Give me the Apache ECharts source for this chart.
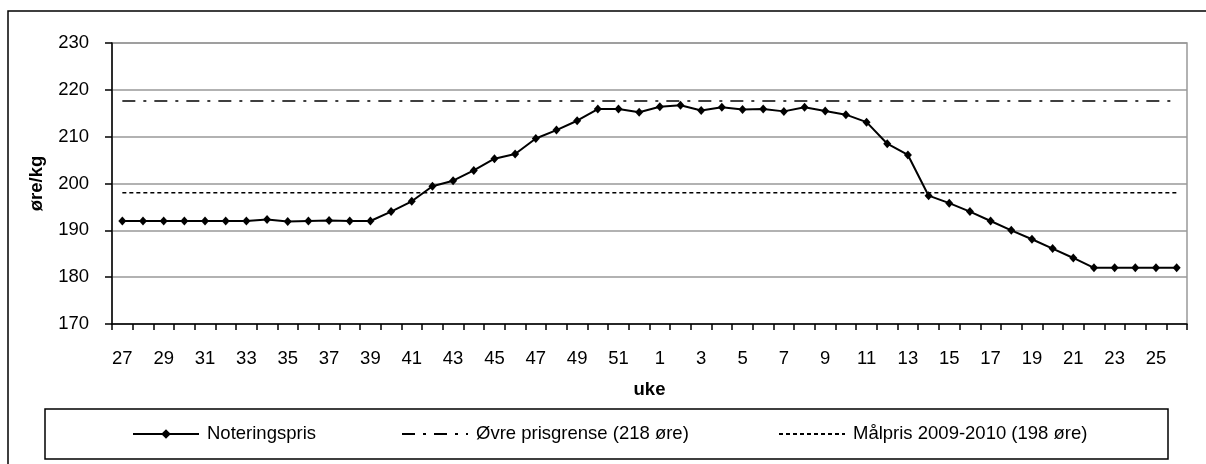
<!DOCTYPE html>
<html>
<head>
<meta charset="utf-8">
<script src="https://cdn.jsdelivr.net/npm/echarts@6/dist/echarts.min.js"></script>
<style>
html,body{margin:0;padding:0;background:#fff;}
#chart{width:1206px;height:464px;}
</style>
</head>
<body>
<div id="chart"></div>
<script>
const weeks = ['27','28','29','30','31','32','33','34','35','36','37','38','39','40','41','42','43','44','45','46','47','48','49','50','51','52',
               '1','2','3','4','5','6','7','8','9','10','11','12','13','14','15','16','17','18','19','20','21','22','23','24','25','26'];
const noteringspris = [192,192,192,192,192,192,192,192.3,191.9,192,192.1,192,192,194.0,196.2,199.4,200.6,202.8,205.3,206.3,209.6,211.4,213.4,215.9,215.9,215.2,
                       216.4,216.7,215.6,216.3,215.8,215.9,215.4,216.3,215.5,214.7,213.1,208.5,206.1,197.4,195.8,194.0,192.0,190.0,188.1,186.1,184.1,182.0,182.0,182.0,182.0,182.0];
const ovrePrisgrense = 217.6;
const malpris = 198;
const yTicks = {min:170, max:230, interval:10};
const seriesNames = ['Noteringspris','Øvre prisgrense (218 øre)','Målpris 2009-2010 (198 øre)'];

const FONT = "'Liberation Sans', Arial, sans-serif";
const chart = echarts.init(document.getElementById('chart'), null, {renderer:'canvas'});

function legendAt(name, left, hideSymbol){
  const item = {name:name};
  if (hideSymbol) item.itemStyle = {opacity:0};
  return {
    data:[item], left:left, top:424, padding:0, itemWidth:66, itemHeight:12,
    textStyle:{fontFamily:FONT, fontSize:18.5, color:'#000', lineHeight:20, padding:[0,0,0,3]},
    selectedMode:false
  };
}

chart.setOption({
  animation:false,
  backgroundColor:'#fff',
  grid:{left:112, right:19, top:43, bottom:140, show:true, borderColor:'#999', borderWidth:1.5},
  legend:[legendAt(seriesNames[0],132,false), legendAt(seriesNames[1],401,true), legendAt(seriesNames[2],778,true)],
  graphic:[
    {type:'rect', shape:{x:8, y:11, width:1300, height:600}, style:{fill:null, stroke:'#000', lineWidth:1.5}, silent:true, z:-1},
    {type:'rect', shape:{x:45, y:409, width:1123, height:50}, style:{fill:null, stroke:'#000', lineWidth:1.5}, silent:true, z:-1}
  ],
  xAxis:{
    type:'category', data:weeks, boundaryGap:true,
    name:'uke', nameLocation:'middle', nameGap:56,
    nameTextStyle:{fontFamily:FONT, fontSize:18.5, fontWeight:'bold', color:'#000'},
    axisLine:{lineStyle:{color:'#000', width:1.5}},
    axisTick:{show:true, interval:0, length:6, inside:false, lineStyle:{color:'#000', width:1.5}},
    axisLabel:{interval:1, margin:25, fontFamily:FONT, fontSize:18.5, color:'#000'},
    splitLine:{show:false}
  },
  yAxis:{
    type:'value', min:yTicks.min, max:yTicks.max, interval:yTicks.interval,
    name:'øre/kg', nameLocation:'middle', nameGap:66, nameRotate:90,
    nameTextStyle:{fontFamily:FONT, fontSize:18.5, fontWeight:'bold', color:'#000'},
    axisLine:{show:true, lineStyle:{color:'#000', width:1.5}},
    axisTick:{show:true, length:7, lineStyle:{color:'#000', width:1.5}},
    axisLabel:{margin:23, fontFamily:FONT, fontSize:18.5, color:'#000'},
    splitLine:{show:true, lineStyle:{color:'#999', width:1.5}}
  },
  series:[
    {
      name:seriesNames[0], type:'line', data:noteringspris,
      symbol:'diamond', symbolSize:[8,9], showSymbol:true,
      lineStyle:{color:'#000', width:2}, itemStyle:{color:'#000'}, z:5
    },
    {
      name:seriesNames[1], type:'line', data:weeks.map(()=>ovrePrisgrense),
      symbol:'none', lineStyle:{color:'#000', width:1.5, type:[13,8,3,8]}, itemStyle:{color:'#000'}, z:3
    },
    {
      name:seriesNames[2], type:'line', data:weeks.map(()=>malpris),
      symbol:'none', lineStyle:{color:'#000', width:1.5, type:[4,3]}, itemStyle:{color:'#000'}, z:3
    }
  ]
});
</script>
</body>
</html>
